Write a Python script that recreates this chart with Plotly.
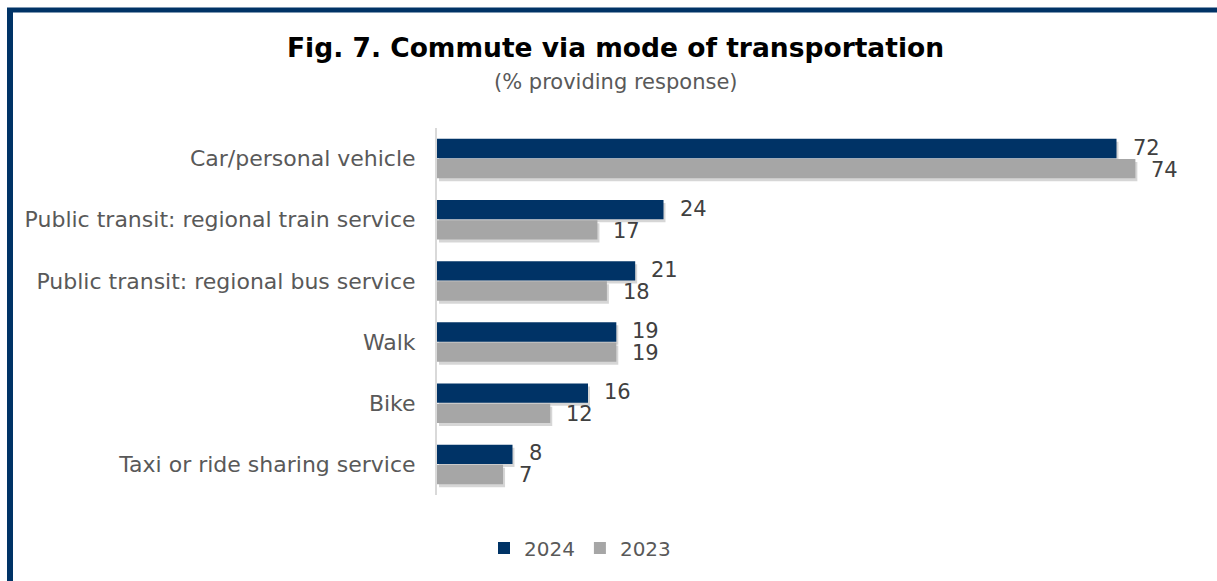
import plotly.graph_objects as go

categories = [
    "Car/personal vehicle",
    "Public transit: regional train service",
    "Public transit: regional bus service",
    "Walk",
    "Bike",
    "Taxi or ride sharing service",
]
values_2024 = [72, 24, 21, 19, 16, 8]
values_2023 = [74, 17, 18, 19, 12, 7]

NAVY = "#003366"
GREY = "#A6A6A6"
LABEL = "#595959"
VALUE = "#404040"
FONT = "DejaVu Sans"

W, H = 1217, 581
ML, MR, MT, MB = 437, 25, 128, 86
PW, PH = W - ML - MR, H - MT - MB
XMAX = 80
N = len(categories)


def px_x(p):
    return (p - ML) / PW


def px_y(p):
    return 1 - (p - MT) / PH


bar_style = dict(orientation="h", marker_line_width=0)

fig = go.Figure()
# soft drop shadow under each bar (drawn first, on the lower subplot)
for vals in (values_2024, values_2023):
    fig.add_trace(go.Bar(
        y=categories, x=vals, xaxis="x", yaxis="y", showlegend=False,
        hoverinfo="skip", marker=dict(color="rgba(0,0,0,0.16)"), **bar_style,
    ))
# the bars themselves
fig.add_trace(go.Bar(
    y=categories, x=values_2024, name="2024", xaxis="x2", yaxis="y2",
    marker=dict(color=NAVY), **bar_style,
))
fig.add_trace(go.Bar(
    y=categories, x=values_2023, name="2023", xaxis="x2", yaxis="y2",
    marker=dict(color=GREY), **bar_style,
))

annotations = []
for i, cat in enumerate(categories):
    for v, off in ((values_2024[i], -11), (values_2023[i], 11)):
        annotations.append(dict(
            x=v, y=cat, xref="x2", yref="y2", text=str(v), showarrow=False,
            xanchor="left", yanchor="middle", xshift=14, yshift=-off,
            font=dict(family=FONT, size=21, color=VALUE),
        ))

annotations.append(dict(
    x=px_x(615), y=px_y(48), xref="paper", yref="paper",
    text="<b>Fig. 7. Commute via mode of transportation</b>", showarrow=False,
    xanchor="center", yanchor="middle",
    font=dict(family=FONT, size=26.5, color="#000000"),
))
annotations.append(dict(
    x=px_x(616), y=px_y(82), xref="paper", yref="paper",
    text="(% providing response)", showarrow=False,
    xanchor="center", yanchor="middle",
    font=dict(family=FONT, size=21, color=LABEL),
))

shapes = [
    # frame: left and top edges
    dict(type="line", xref="paper", yref="paper",
         x0=px_x(10), x1=px_x(10), y0=px_y(9), y1=px_y(H + 5),
         line=dict(color=NAVY, width=6)),
    dict(type="line", xref="paper", yref="paper",
         x0=px_x(7), x1=px_x(W + 5), y0=px_y(10), y1=px_y(10),
         line=dict(color=NAVY, width=5)),
]

# shadow offset in data units: a few pixels right and down
dx = 2 * XMAX / PW
dy = 3 * N / PH

fig.update_layout(
    width=W, height=H,
    margin=dict(l=ML, r=MR, t=MT, b=MB),
    paper_bgcolor="white", plot_bgcolor="white",
    barmode="group", bargap=0.34, bargroupgap=0.04,
    font=dict(family=FONT, size=20, color=LABEL),
    xaxis=dict(range=[-dx, XMAX - dx], showgrid=False, zeroline=False,
               showticklabels=False, showline=False, fixedrange=True),
    yaxis=dict(range=[N - 0.5 - dy, -0.5 - dy], showgrid=False,
               zeroline=False, showline=False, showticklabels=False),
    xaxis2=dict(range=[0, XMAX], overlaying="x", showgrid=False,
                zeroline=False, showticklabels=False, showline=False),
    yaxis2=dict(range=[N - 0.5, -0.5], overlaying="y", side="left",
                showgrid=False, zeroline=False,
                showline=True, linecolor="#D9D9D9", linewidth=2,
                ticks="outside", ticklen=15, tickcolor="rgba(0,0,0,0)",
                tickfont=dict(family=FONT, size=22, color=LABEL)),
    legend=dict(orientation="h", x=px_x(580), y=px_y(548),
                xanchor="center", yanchor="middle",
                font=dict(family=FONT, size=20, color=LABEL),
                itemwidth=30, traceorder="normal"),
    annotations=annotations,
    shapes=shapes,
    showlegend=True,
)

fig.write_html("out.html")
